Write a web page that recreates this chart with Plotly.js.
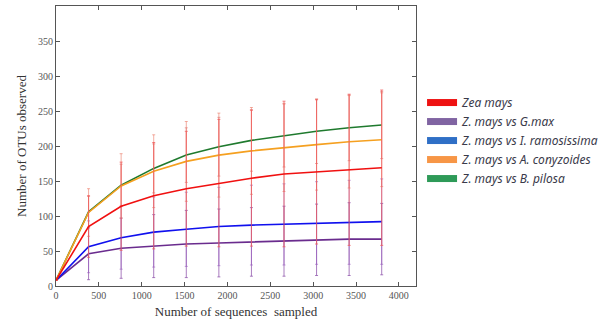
<!DOCTYPE html>
<html>
<head>
<meta charset="utf-8">
<script src="https://cdn.plot.ly/plotly-3.0.1.min.js"></script>
<style>html,body{margin:0;padding:0;background:#fff;}#chart{width:609px;height:326px;}</style>
</head>
<body>
<div id="chart"></div>
<script>
// Sequences sampled (x)
const seqs = [0, 380, 760, 1140, 1520, 1900, 2280, 2660, 3040, 3420, 3800];

// Observed OTUs per series
const seriesNames = ['Zea mays', 'Z. mays vs G.max', 'Z. mays vs I. ramosissima', 'Z. mays vs A. conyzoides', 'Z. mays vs B. pilosa'];
const zeaMays      = [8, 85, 114, 129, 139, 147, 154, 160, 163, 166, 169];
const gMax         = [8, 46, 54, 57, 60, 61.5, 63, 64, 66, 67, 67];
const iRamosissima = [8, 56, 69, 77, 81, 85, 87, 88, 90, 91, 92];
const aConyzoides  = [8, 105, 143, 164, 178, 187, 193, 198, 202, 206, 209];
const bPilosa      = [8, 106, 144, 168, 187, 199, 208, 215, 221, 226, 230];

// Error (± standard deviation) per series
const zeaMaysErr      = [0, 44, 63, 76, 82, 91, 97, 104, 103, 108, 111];
const gMaxErr         = [0, 37, 43, 45, 48, 48.5, 49, 50, 51, 52, 51];
const iRamosissimaErr = [0, 37, 45, 50, 53, 56, 57, 58, 59, 60, 61];
const aConyzoidesErr  = [0, 34, 46, 52, 57, 60, 62, 63, 65, 66, 67];
const bPilosaErr      = [0, 22, 30, 35, 39, 42, 44, 45, 46, 47, 48];

const xTicks = [0, 500, 1000, 1500, 2000, 2500, 3000, 3500, 4000];
const yTicks = [0, 50, 100, 150, 200, 250, 300, 350];

const series = [
  {name: seriesNames[1], y: gMax, e: gMaxErr, line: '#6a2c8e', err: 'rgba(140,80,170,0.75)'},
  {name: seriesNames[2], y: iRamosissima, e: iRamosissimaErr, line: '#1010ee', err: 'rgba(150,90,190,0.6)'},
  {name: seriesNames[4], y: bPilosa, e: bPilosaErr, line: '#1f7a2e', err: 'rgba(220,110,110,0.6)'},
  {name: seriesNames[3], y: aConyzoides, e: aConyzoidesErr, line: '#f5a020', err: 'rgba(235,120,100,0.6)'},
  {name: seriesNames[0], y: zeaMays, e: zeaMaysErr, line: '#f01010', err: 'rgba(240,90,90,0.75)'}
];

const traces = [];
series.forEach(s => {
  traces.push({
    type: 'scatter', mode: 'lines', x: seqs, y: s.y, showlegend: false,
    line: {color: s.line, width: 1.6},
    error_y: {type: 'data', array: s.e, visible: true, color: s.err, thickness: 1, width: 1.5},
    hoverinfo: 'skip'
  });
});
// legend entries in the reference order
const legendOrder = [
  {name: seriesNames[0], c: '#ee1111'},
  {name: seriesNames[1], c: '#8064a2'},
  {name: seriesNames[2], c: '#2f6fc6'},
  {name: seriesNames[3], c: '#f79646'},
  {name: seriesNames[4], c: '#2e9a58'}
];
legendOrder.forEach(l => {
  traces.push({type: 'scatter', mode: 'lines', x: [null], y: [null], name: l.name,
    line: {color: l.c, width: 7}, showlegend: true});
});

const axisCommon = {
  showline: true, linecolor: '#555', linewidth: 1, mirror: 'ticks',
  ticks: 'inside', ticklen: 4, tickcolor: '#555', tickwidth: 1,
  showgrid: false, zeroline: false,
  tickfont: {family: 'Liberation Serif, DejaVu Serif, serif', size: 10, color: '#555'}
};

const layout = {
  width: 609, height: 326,
  margin: {l: 56, r: 192, t: 6, b: 40},
  paper_bgcolor: '#fff', plot_bgcolor: '#fff',
  xaxis: Object.assign({}, axisCommon, {
    range: [0, 4200], tickvals: xTicks, ticktext: xTicks.map(String),
    title: {text: 'Number of sequences  sampled', standoff: 6,
      font: {family: 'Liberation Serif, DejaVu Serif, serif', size: 13, color: '#333'}}
  }),
  yaxis: Object.assign({}, axisCommon, {
    range: [0, 400], tickvals: yTicks, ticktext: yTicks.map(String),
    title: {text: 'Number of OTUs observed', standoff: 8,
      font: {family: 'Liberation Serif, DejaVu Serif, serif', size: 13, color: '#333'}}
  }),
  showlegend: true,
  legend: {
    x: 1.014, xanchor: 'left', y: 0.707, yanchor: 'top',
    bgcolor: 'rgba(0,0,0,0)', borderwidth: 0, itemwidth: 30,
    font: {family: 'Noto Sans, Open Sans, sans-serif', size: 12, color: '#3a3a4a', style: 'italic'},
    tracegroupgap: 0
  }
};

Plotly.newPlot('chart', traces, layout, {displayModeBar: false, staticPlot: true});
</script>
</body>
</html>
